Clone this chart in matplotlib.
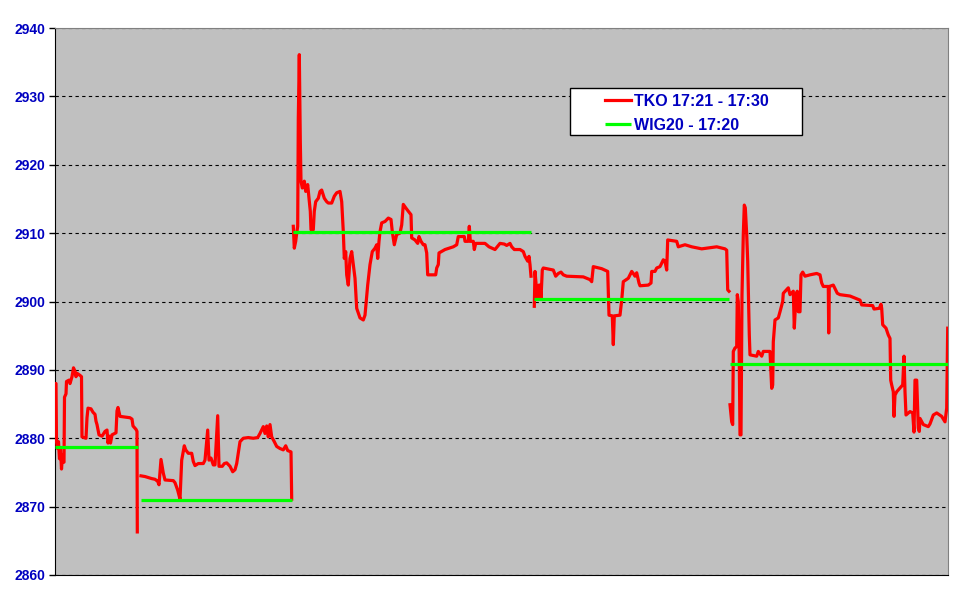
#!/usr/bin/env python3
import matplotlib
matplotlib.use('Agg')
import matplotlib.pyplot as plt
from matplotlib.patches import Rectangle

# TKO futures after the close, one list of (tick, price) per session
day1 = [(0, 2888), (1, 2888), (1.5, 2879.5), (2.5, 2878.5), (3.5, 2879.5), (4.5, 2877), (5.5, 2878.5),
        (6.5, 2875.5), (7.5, 2877.5), (8.5, 2876.5), (9, 2876.5), (9.5, 2886), (11, 2886.5), (11.5, 2888.3),
        (14, 2888.5), (15, 2888), (17, 2889), (18.5, 2890.3), (20, 2889.8), (21, 2889), (22, 2889.5),
        (25, 2889.2), (26.5, 2889), (27, 2880.2), (31, 2880), (32, 2883), (33, 2884.4), (36, 2884.3),
        (38, 2883.8), (40, 2883.5), (41, 2882.5), (42, 2882), (44, 2880.5), (47, 2880.3), (50, 2881),
        (52, 2881.2), (53, 2879.3), (54.5, 2880.3), (55.5, 2879.3), (57, 2880.5), (61, 2880.8), (62, 2884),
        (63, 2884.5), (65, 2883.2), (75, 2883), (77, 2882.8), (78, 2881.8), (81, 2881.3), (82, 2881),
        (82.3, 2866.3)]

day2 = [(86, 2874.5), (90, 2874.4), (96.7, 2874.1), (100, 2874), (102.7, 2873.7), (104, 2873.2), (106, 2876.9),
        (108.3, 2874.9), (110, 2873.9), (118.3, 2873.8), (120, 2873.5), (122.7, 2872.4), (125, 2871.1),
        (126.7, 2876.8), (129.3, 2878.9), (130.7, 2878.3), (133.3, 2877.8), (136.7, 2877.8), (138.3, 2876.6),
        (140, 2876), (143.3, 2876.3), (148.3, 2876.3), (150, 2876.8), (152.7, 2881.2), (154, 2876.8),
        (156, 2877.1), (158.3, 2876.1), (160, 2876.1), (162.7, 2883.3), (164, 2875.9), (167.3, 2875.9),
        (169.3, 2876.3), (171.7, 2876.4), (175, 2875.9), (177.7, 2875.1), (180, 2875.4), (181.7, 2876.3),
        (185, 2879.5), (188.3, 2880), (193.3, 2880.1), (198.3, 2880), (202.7, 2880.1), (205, 2880.7),
        (208.3, 2881.7), (210, 2880.7), (211.7, 2881.8), (213.3, 2880.2), (215, 2882), (216.7, 2880.2),
        (219.3, 2879.5), (221.7, 2878.8), (225, 2878.5), (228.3, 2878.3), (230.7, 2878.9), (232.7, 2878.2),
        (236, 2878), (236.7, 2871.1)]

day3 = [(238.3, 2911), (239.3, 2907.8), (240.7, 2908.8), (241.7, 2910), (242.7, 2911), (243.3, 2926.8),
        (244.3, 2936.1), (245.3, 2923.4), (246, 2917.6), (247.3, 2916.6), (249.3, 2917.6), (250.7, 2916.1),
        (252.7, 2917.1), (254, 2915.1), (255.3, 2913.2), (256, 2910.5), (258.3, 2910.5), (259.3, 2913.2),
        (260.7, 2914.6), (263.3, 2915.1), (265, 2916.1), (266.7, 2916.3), (269.3, 2915.1), (271.7, 2914.6),
        (273.3, 2914.4), (276.7, 2914.4), (279.3, 2915.4), (281.7, 2915.9), (285, 2916.1), (286.7, 2914.6),
        (288.3, 2910.2), (289.3, 2906.3), (290.7, 2907.3), (291.7, 2903.9), (293.3, 2902.4), (295, 2906.3),
        (296.7, 2907.3), (298.3, 2905.4), (300, 2903.4), (301.7, 2899), (305, 2897.6), (308.3, 2897.3),
        (310, 2898), (312.7, 2902.4), (315, 2905.4), (317.3, 2907.3), (320, 2907.8), (321.7, 2908.3),
        (322.7, 2906.3), (324, 2908.8), (325, 2910.2), (326.7, 2911.5), (330, 2911.7), (333.3, 2912.2),
        (336, 2912), (337.3, 2910.2), (339.3, 2908.3), (341.7, 2909.8), (345, 2910), (346.7, 2911.2),
        (348.3, 2914.2), (350.7, 2913.7), (353.3, 2913.2), (356, 2912.7), (356.7, 2909.3), (360, 2909),
        (362.7, 2908.5), (364, 2909.5), (366, 2908.8), (368.3, 2908.3), (370, 2908.3), (371.7, 2907.1),
        (372.7, 2903.9), (380.7, 2903.9), (381.7, 2904.9), (383.3, 2905.4), (384, 2907.1), (390, 2907.6),
        (398.3, 2908), (401.7, 2908.3), (403.3, 2909.5), (409.3, 2909.5), (410, 2908.8), (413.3, 2908.8),
        (414.3, 2911), (415.3, 2908.8), (418.3, 2908.8), (419.3, 2907.6), (420.7, 2908.5), (430, 2908.5),
        (434, 2908), (440, 2907.6), (445, 2908.5), (449.3, 2908.4), (451.7, 2908.2), (455, 2908.5),
        (456.7, 2908), (459.3, 2907.6), (465, 2907.6), (468.3, 2907.3), (470, 2906.6), (472.7, 2905.9),
        (474, 2906.6), (475, 2905.4), (476, 2903.7)]

day4 = [(479.3, 2899.3), (480, 2904.4), (481, 2902.7), (482, 2900.7), (483.3, 2900.7), (484, 2902.4),
        (485, 2902.4), (486, 2900.5), (487.3, 2904.6), (488.3, 2904.9), (498.3, 2904.6), (500.7, 2903.7),
        (503.3, 2904.1), (506, 2904.3), (508.3, 2903.9), (511.7, 2903.7), (528.3, 2903.6), (535, 2903.2),
        (536.7, 2902.9), (538.3, 2905.1), (546.7, 2904.8), (552.7, 2904.4), (554, 2898), (557.3, 2897.9),
        (558.3, 2893.7), (559.3, 2897.9), (565, 2898), (566.7, 2900.2), (568.3, 2902.9), (573.3, 2903.4),
        (576.7, 2904.4), (578.3, 2904.1), (580, 2903.7), (581.7, 2904.2), (584, 2902.7), (585, 2902.3),
        (593.3, 2902.4), (596, 2902.7), (596.7, 2904.4), (600, 2904.4), (601.7, 2904.9), (605, 2905.1),
        (606.7, 2905.6), (608.3, 2906.1), (610, 2905.9), (611.7, 2904.6), (612.7, 2909), (621.7, 2908.8),
        (623.3, 2908), (630, 2908.3), (636.7, 2908), (646.7, 2907.7), (656.7, 2907.9), (661.7, 2908),
        (670, 2907.7), (671.7, 2907.5), (672.7, 2901.7), (674, 2901.5)]

day5 = [(675, 2884.9), (676.7, 2882.4), (677.7, 2882), (678.3, 2892.7), (680, 2893.2), (681.7, 2893.4),
        (682.3, 2901), (683.3, 2900), (684.3, 2891.2), (685, 2880.5), (686, 2880.5), (687, 2901),
        (688.3, 2909.8), (689.3, 2914.1), (690.3, 2913.7), (691.7, 2909.8), (692.7, 2905.9), (694.3, 2895.1),
        (695, 2892.2), (701.7, 2892), (703.3, 2892.7), (706.7, 2892), (708.3, 2892.7), (715, 2892.7),
        (716.7, 2887.3), (717.7, 2887.8), (718.3, 2894.1), (720, 2897.3), (723.3, 2897.6), (725, 2898.5),
        (727.7, 2900), (728.3, 2901.2), (733.3, 2902), (735, 2901), (738.3, 2901.5), (739.3, 2896.1),
        (741, 2901), (742.3, 2901.5), (743.3, 2898.5), (745, 2898.5), (746, 2903.9), (747.7, 2904.3),
        (750, 2903.7), (755, 2903.9), (758.3, 2904), (761.7, 2904.1), (765, 2903.9), (766.7, 2902.7),
        (768.3, 2902.2), (773.3, 2902.2), (773.7, 2895.4), (774.3, 2902.2), (778.3, 2902.4), (782.3, 2901.2),
        (785, 2901), (795, 2900.8), (801.7, 2900.4), (805, 2900.2), (806.7, 2899.5), (817.7, 2899.4),
        (819, 2898.9), (824.3, 2899), (826, 2899.6), (826.7, 2899), (827.7, 2896.6), (831, 2896.1),
        (833.3, 2895.1), (835, 2894.6), (835.7, 2888.5), (836.7, 2887.8), (838.3, 2886.8), (839, 2883.2),
        (840, 2886.3), (841.7, 2886.8), (847.7, 2887.8), (849, 2892), (850, 2886.8), (851, 2883.4),
        (855, 2883.9), (857.7, 2883.7), (859, 2880.9), (860, 2888.5), (861.7, 2888.5), (863.3, 2881.5),
        (864.3, 2881), (865, 2882.9), (868.3, 2882), (873.3, 2881.7), (875, 2882.1), (878.3, 2883.4),
        (881.7, 2883.7), (886.7, 2883.2), (890, 2882.4), (891.7, 2884.4), (892.7, 2896.1)]

# WIG20 close of each session and the ticks it spans
wig20_close = [2878.7, 2870.9, 2910.2, 2900.3, 2890.9]
wig20_start = [0, 86, 238, 479, 675]
wig20_end = [82.5, 237, 476, 674, 893]

yticks = [2860, 2870, 2880, 2890, 2900, 2910, 2920, 2930, 2940]


def main():
    plt.rcParams['font.family'] = ['Liberation Sans', 'DejaVu Sans']
    fig = plt.figure(figsize=(9.66, 6.01), dpi=100)
    ax = fig.add_axes([55 / 966, 1 - 575 / 601, 893 / 966, 547 / 601])
    ax.set_facecolor('#c0c0c0')

    days = [day1, day2, day3, day4, day5]
    for i, d in enumerate(days):
        x = [p[0] for p in d]
        y = [p[1] for p in d]
        ax.plot(x, y, color='#ff0000', lw=2.3, solid_joinstyle='round',
                label='TKO 17:21 - 17:30' if i == 0 else None, zorder=3)
    for i in range(len(wig20_close)):
        ax.plot([wig20_start[i], wig20_end[i]], [wig20_close[i], wig20_close[i]],
                color='#00ff00', lw=2.3, solid_capstyle='butt',
                label='WIG20 - 17:20' if i == 0 else None, zorder=4)

    ax.set_xlim(0, 893)
    ax.set_ylim(2860, 2940)
    ax.set_yticks(yticks)
    ax.set_xticks([])
    ax.yaxis.grid(True, color='black', linestyle=(0, (3, 3)), linewidth=0.8)
    ax.set_axisbelow(True)
    ax.tick_params(axis='y', length=4, width=1, pad=3, labelcolor='#0000c0', labelsize=10)
    for t in ax.get_yticklabels():
        t.set_fontweight('bold')
    for s in ['top', 'right']:
        ax.spines[s].set_color('#808080')
    for s in ['left', 'bottom']:
        ax.spines[s].set_color('black')

    # legend box drawn separately, it is much wider than its content
    ax.add_patch(Rectangle(((570 - 55) / 893, (575 - 135) / 547), (802 - 570) / 893, (135 - 88) / 547,
                           transform=ax.transAxes, facecolor='white', edgecolor='black',
                           lw=1, zorder=5))
    leg = ax.legend(loc='upper left', bbox_to_anchor=((605 - 55) / 893, (575 - 94) / 547),
                    frameon=False, handlelength=1.6, handletextpad=0.2, borderpad=0,
                    borderaxespad=0, labelspacing=0.55,
                    prop={'weight': 'bold', 'size': 11.5})
    leg.set_zorder(6)
    for t in leg.get_texts():
        t.set_color('#0000c0')

    fig.savefig('out.png', dpi=100)


if __name__ == "__main__":
    main()
